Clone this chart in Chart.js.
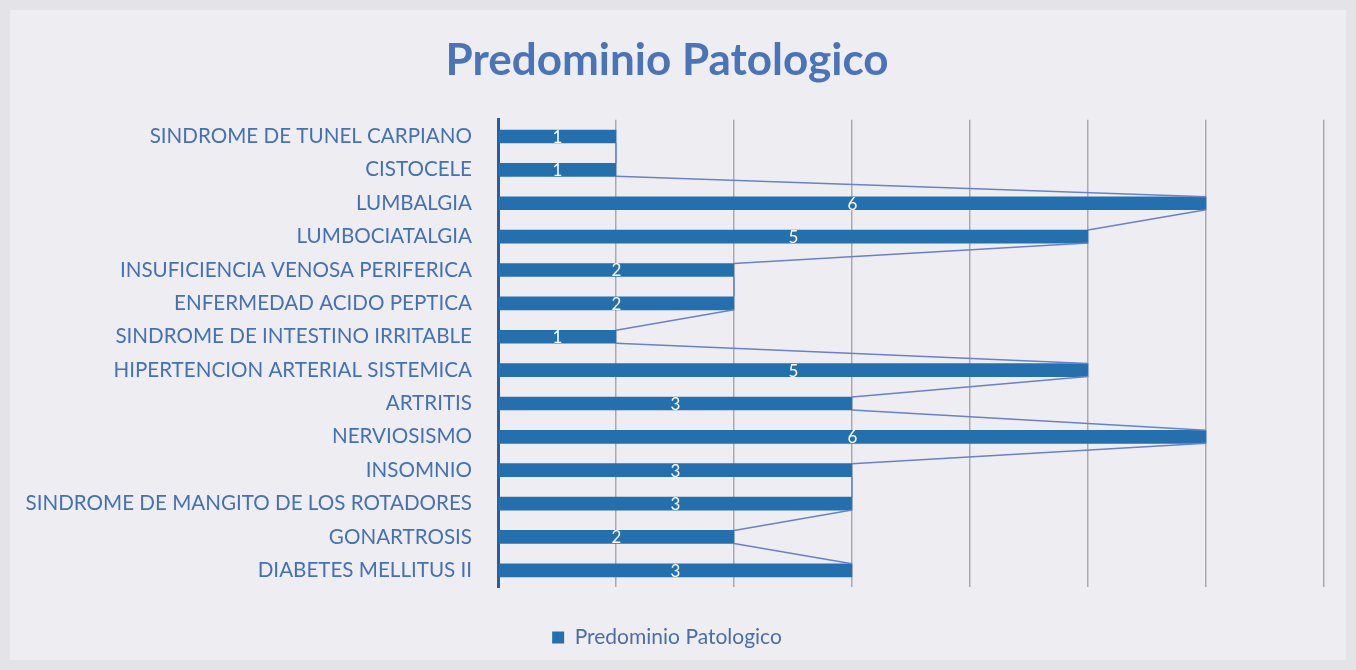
<!DOCTYPE html>
<html>
<head>
<meta charset="utf-8">
<script src="https://cdn.jsdelivr.net/npm/chart.js@4"></script>
<style>
  html, body { margin: 0; padding: 0; background: #e2e2e6; }
  #chart { display: block; }
</style>
</head>
<body>
<canvas id="chart" width="1356" height="670"></canvas>
<script>
// Categories (top to bottom) and counts
var categories = [
	"SINDROME DE TUNEL CARPIANO",
	"CISTOCELE",
	"LUMBALGIA",
	"LUMBOCIATALGIA",
	"INSUFICIENCIA VENOSA PERIFERICA",
	"ENFERMEDAD ACIDO PEPTICA",
	"SINDROME DE INTESTINO IRRITABLE",
	"HIPERTENCION ARTERIAL SISTEMICA",
	"ARTRITIS",
	"NERVIOSISMO",
	"INSOMNIO",
	"SINDROME DE MANGITO DE LOS ROTADORES",
	"GONARTROSIS",
	"DIABETES MELLITUS II"
];
var counts = [1, 1, 6, 5, 2, 2, 1, 5, 3, 6, 3, 3, 2, 3];
var seriesName = "Predominio Patologico";
var xTicks = [0, 1, 2, 3, 4, 5, 6, 7];

var BAR = '#2470ae';
var TEXT = '#4470b4';

// Paint the card background
var bgPlugin = {
	id: 'bg',
	beforeDraw: function(chart) {
		var c = chart.ctx;
		c.save();
		c.fillStyle = '#e4e4e8';
		c.fillRect(0, 0, chart.width, chart.height);
		c.fillStyle = '#eeeef2';
		c.fillRect(10, 10, chart.width - 20, chart.height - 20);
		c.restore();
	}
};

// Series lines joining the ends of neighbouring bars (like Excel)
var seriesLines = {
	id: 'seriesLines',
	afterDatasetsDraw: function(chart) {
		var bars = chart.getDatasetMeta(0).data;
		var c = chart.ctx;
		c.save();
		c.strokeStyle = '#6a80c8';
		c.lineWidth = 1.5;
		for (var i = 0; i < bars.length - 1; i++) {
			var a = bars[i], b = bars[i + 1];
			c.beginPath();
			c.moveTo(a.x, a.y + a.height / 2);
			c.lineTo(b.x, b.y - b.height / 2);
			c.stroke();
		}
		c.restore();
	}
};

// Value labels in the middle of each bar
var valueLabels = {
	id: 'valueLabels',
	afterDatasetsDraw: function(chart) {
		var bars = chart.getDatasetMeta(0).data;
		var vals = chart.data.datasets[0].data;
		var c = chart.ctx;
		c.save();
		c.fillStyle = '#ffffff';
		c.font = '17px Lato';
		c.textAlign = 'center';
		c.textBaseline = 'middle';
		bars.forEach(function(bar, i) {
			c.fillText(vals[i], (bar.base + bar.x) / 2, bar.y + 1);
		});
		c.restore();
	}
};

var ctx = document.getElementById('chart').getContext('2d');
var chart = new Chart(ctx, {
	type: 'bar',
	data: {
		labels: categories,
		datasets: [{
			label: seriesName,
			data: counts,
			backgroundColor: BAR,
			borderWidth: 0,
			barThickness: 13
		}]
	},
	options: {
		indexAxis: 'y',
		responsive: false,
		animation: false,
		layout: { padding: { left: 10, right: 32, top: 10, bottom: 12 } },
		plugins: {
			title: {
				display: true,
				text: seriesName,
				color: '#4a74b8',
				font: { family: 'Lato', size: 44, weight: 'bold' },
				padding: { top: 24, bottom: 33 }
			},
			legend: {
				position: 'bottom',
				labels: {
					color: '#4a6fa5',
					font: { family: 'Lato', size: 21 },
					boxWidth: 12,
					boxHeight: 12,
					padding: 22
				}
			},
			tooltip: { enabled: false }
		},
		scales: {
			x: {
				min: 0,
				max: 7,
				afterBuildTicks: function(scale) {
					scale.ticks = xTicks.map(function(v) { return { value: v }; });
				},
				afterFit: function(scale) { scale.height = 18; },
				ticks: { display: false },
				grid: { color: '#a9a9b2', lineWidth: 1.5, drawTicks: false },
				border: { display: false }
			},
			y: {
				afterFit: function(scale) { scale.width = 488; },
				ticks: {
					color: TEXT,
					font: { family: 'Lato', size: 20.6 },
					padding: 26,
					autoSkip: false
				},
				grid: { display: false, drawTicks: false },
				border: { color: '#2a5c9e', width: 3 }
			}
		}
	},
	plugins: [bgPlugin, seriesLines, valueLabels]
});
</script>
</body>
</html>
